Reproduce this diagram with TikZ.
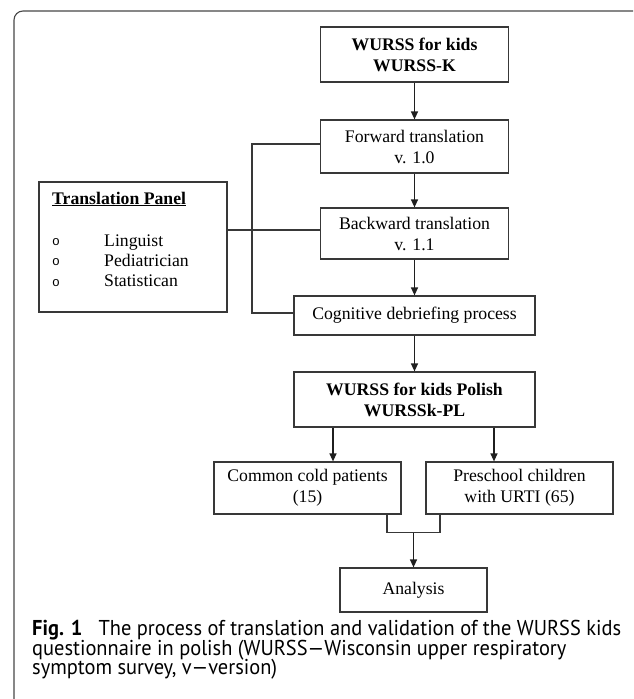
\documentclass[tikz,border=0pt]{standalone}
\usepackage{fontspec}
\setmainfont{Liberation Serif}
\newfontfamily\capfont[FakeStretch=0.95]{PT Sans}
\newfontfamily\bulfont{Liberation Mono}
\usetikzlibrary{arrows.meta}
\newlength\capw
\begin{document}
\settowidth{\capw}{\capfont\fontsize{10}{12}\selectfont\textbf{Fig. 1}\hspace{0.75em}The process of translation and validation of the WURSS kids}%
\pgfmathsetmacro\capsz{10*589/\capw}%
\begin{tikzpicture}[x=1pt,y=-1pt,
  box/.style={draw=black!78, line width=1.2pt, inner sep=0pt, align=center,
    font=\fontsize{17.7}{21}\selectfont},
  bbox/.style={box, font=\fontsize{17.7}{21}\selectfont\bfseries},
  arr/.style={draw=black!88, line width=1.2pt, -{Triangle[length=8pt,width=7pt]}},
  ln/.style={draw=black!78, line width=1.2pt},
  txt/.style={inner sep=0pt, anchor=base west, font=\fontsize{17.7}{21}\selectfont},
  bul/.style={inner sep=0pt, anchor=base, font=\bulfont\fontsize{13}{14}\selectfont},
  captext/.style={inner sep=0pt, anchor=base west, font=\capfont\fontsize{\capsz}{20}\selectfont}]
\useasboundingbox (0,0) rectangle (633,699);
\begin{scope}
  \clip (0,0) rectangle (633,699);
  \draw[black!72, line width=1.1pt, rounded corners=9pt] (14,720) -- (14,11) -- (642,11) -- (642,720);
\end{scope}

% main chain
\node[bbox, minimum width=188pt, minimum height=55pt] (k) at (414.5,54.5) {WURSS for kids\\WURSS-K};
\node[box, minimum width=188pt, minimum height=53pt] (fwd) at (414.5,146.5) {Forward translation\\v. 1.0};
\node[box, minimum width=188pt, minimum height=51pt] (bwd) at (414.5,233.5) {Backward translation\\v. 1.1};
\node[box, minimum width=241pt, minimum height=39pt] (cog) at (414.5,315.5) {Cognitive debriefing process};
\node[bbox, minimum width=241pt, minimum height=55pt] (pl) at (414.5,399.5) {WURSS for kids Polish\\WURSSk-PL};
\node[box, minimum width=187pt, minimum height=52pt] (cc) at (307.5,488) {Common cold patients\\(15)};
\node[box, minimum width=187pt, minimum height=52pt] (ps) at (519.5,488) {Preschool children\\with URTI (65)};
\node[box, minimum width=147pt, minimum height=44pt] (an) at (413.5,590) {Analysis};

% translation panel
\node[draw=black!78, line width=1.2pt, minimum width=188pt, minimum height=130pt, inner sep=0pt] (panel) at (133,247) {};
\node[txt, font=\fontsize{17.7}{21}\selectfont\bfseries] (pt) at (52,204) {\underline{Translation Panel}};
\node[bul] (b1) at (56,245) {o};
\node[bul] (b2) at (56,265) {o};
\node[bul] (b3) at (56,286) {o};
\node[txt] (t1) at (104,246) {Linguist};
\node[txt] (t2) at (104,266) {Pediatrician};
\node[txt] (t3) at (104,286) {Statistican};

% connectors
\draw[arr] (k) -- (fwd);
\draw[arr] (fwd) -- (bwd);
\draw[arr] (bwd) -- (cog);
\draw[arr] (cog) -- (pl);
\draw[arr] ([xshift=-81.5pt]pl.south) -- ([xshift=-81.5pt]pl.south |- cc.north);
\draw[arr] ([xshift=79.5pt]pl.south) -- ([xshift=79.5pt]pl.south |- ps.north);
\draw[ln] ([yshift=2.5pt]fwd.west) -- ++(-68,0) |- ([yshift=2.5pt]cog.west);
\draw[ln] ([yshift=3.5pt]panel.east |- bwd.west) -- ([yshift=3.5pt]bwd.west);
\draw[ln] ([xshift=79.5pt]cc.south) -- ++(0,18) coordinate (m) -| ([xshift=-79.5pt]ps.south);
\draw[arr] (m -| an) -- (an.north);

% caption
\node[captext] (c1) at (32,635.5) {\textbf{Fig. 1}\hspace{0.75em}The process of translation and validation of the WURSS kids};
\node[captext] (c2) at (32,655) {questionnaire in polish (WURSS—Wisconsin upper respiratory};
\node[captext] (c3) at (32,674.5) {symptom survey, v—version)};
\end{tikzpicture}
\end{document}
